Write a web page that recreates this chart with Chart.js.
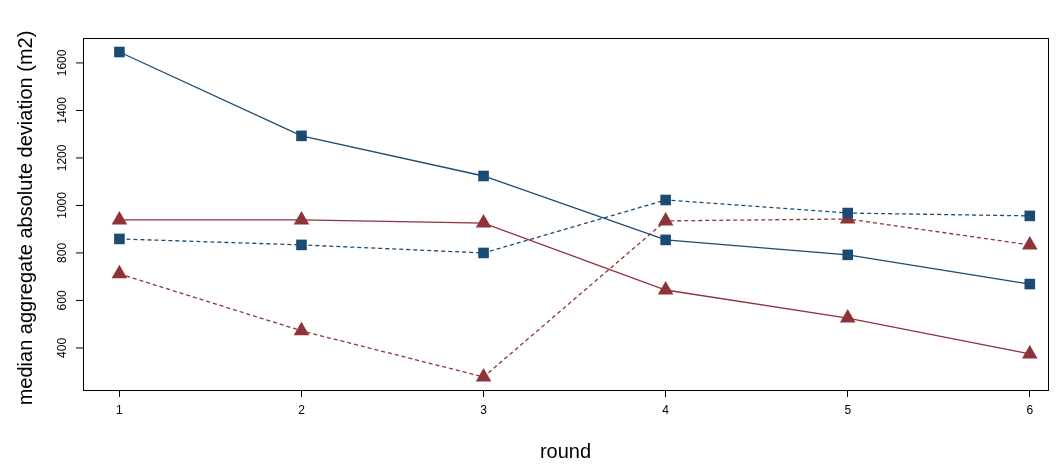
<!DOCTYPE html>
<html><head><script src="https://cdn.jsdelivr.net/npm/chart.js"></script>
<style>html,body{margin:0;padding:0;background:#fff}#w{width:1057px;height:466px}</style></head>
<body><div id="w"><canvas id="c"></canvas></div>
<script>
const rounds=[1,2,3,4,5,6];
const blueSolid=[1646,1293,1124,855,792,669];
const blueDashed=[859,834,800,1023,968,956];
const redSolid=[939,939,926,644,526,375];
const redDashed=[712,472,278,935,943,834];
const yTicks=[400,600,800,1000,1200,1400,1600];
const BLUE='#1b4a73',RED='#8e3339';
const mk=(d,c,dash,style)=>({data:rounds.map((r,i)=>({x:r,y:d[i]})),borderColor:c,backgroundColor:c,borderWidth:1.3,borderDash:dash,pointStyle:style,pointRadius:style==='triangle'?9:7.5,pointBorderWidth:0,tension:0});
const deco={id:'deco',afterDraw(ch){const a=ch.chartArea,x=ch.ctx,ys=ch.scales.y;x.save();x.strokeStyle='#000';x.lineWidth=1;x.strokeRect(a.left+0.5,a.top+0.5,a.right-a.left,a.bottom-a.top);
x.fillStyle='#000';x.font='12px "Liberation Sans",Arial';x.textAlign='center';x.textBaseline='bottom';
yTicks.forEach(v=>{const p=ys.getPixelForValue(v);x.save();x.translate(a.left-14,p);x.rotate(-Math.PI/2);x.fillText(v,0,0);x.restore();
x.beginPath();x.moveTo(a.left-7,p);x.lineTo(a.left,p);x.stroke();});
x.font='20px "Liberation Sans",Arial';x.save();x.translate(36,(a.top+a.bottom)/2+4);x.rotate(-Math.PI/2);x.fillText('median aggregate absolute deviation (m2)',0,0);x.restore();
x.textBaseline='alphabetic';x.fillText('round',(a.left+a.right)/2,458);x.restore();}};
new Chart(document.getElementById('c'),{type:'line',data:{datasets:[mk(blueSolid,BLUE,[],'rect'),mk(blueDashed,BLUE,[4,3],'rect'),mk(redSolid,RED,[],'triangle'),mk(redDashed,RED,[4,3],'triangle')]},
options:{responsive:true,maintainAspectRatio:false,animation:false,layout:{padding:{top:38,right:9,left:0,bottom:0}},plugins:{legend:{display:false},tooltip:{enabled:false}},
scales:{x:{type:'linear',min:0.8,max:6.1,afterBuildTicks(s){s.ticks=rounds.map(v=>({value:v}));},afterFit(s){s.height=76;},
grid:{drawOnChartArea:false,color:'#000',tickLength:7},border:{display:false},ticks:{color:'#000',font:{size:12,family:'"Liberation Sans",Arial'},padding:6,maxRotation:0}},
y:{min:223,max:1705,afterBuildTicks(s){s.ticks=yTicks.map(v=>({value:v}));},afterFit(s){s.width=83;},grid:{display:false},border:{display:false},ticks:{display:false}}}},plugins:[deco]});
</script></body></html>
